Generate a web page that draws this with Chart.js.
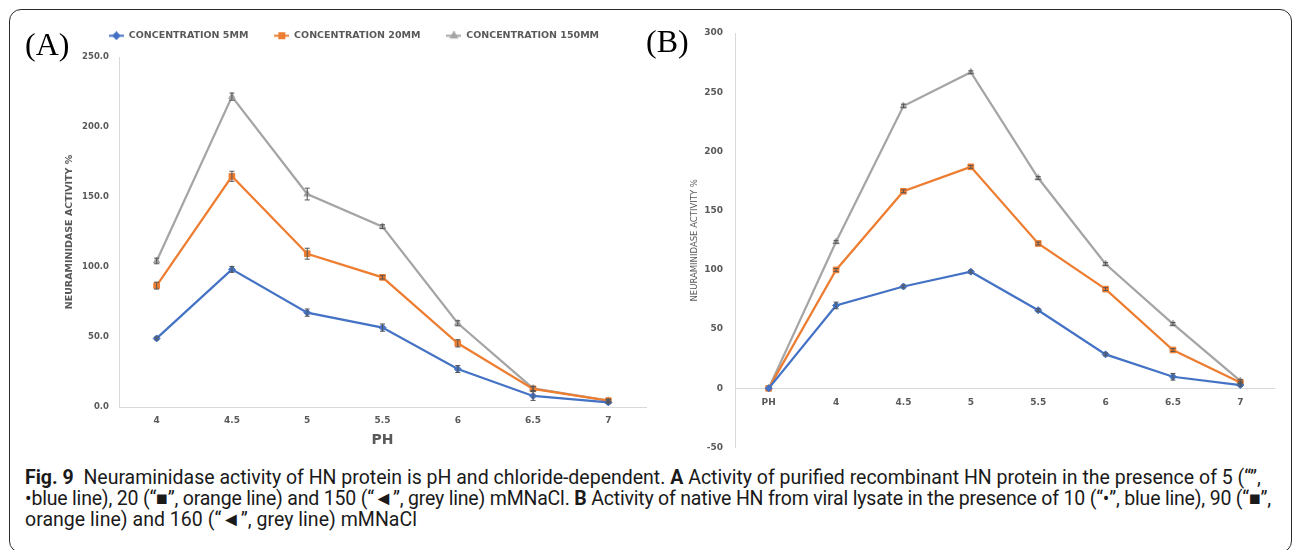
<!DOCTYPE html>
<html>
<head>
<meta charset="utf-8">
<script src="https://cdn.jsdelivr.net/npm/chart.js@4.4.0/dist/chart.umd.min.js"></script>
<style>
  html, body { margin: 0; padding: 0; background: #fff; width: 1293px; height: 550px; overflow: hidden; position: relative; }
  .frame { position: absolute; left: 9px; top: 9px; width: 1283px; height: 544px; box-sizing: border-box;
           border: 1.5px solid #2a2a2a; border-radius: 12px; }
  .tag { position: absolute; font-family: "Liberation Serif", serif; font-size: 32px; line-height: 1; color: #000; }
  #cvA { position: absolute; left: 0; top: 0; }
  #cvB { position: absolute; left: 640px; top: 0; }
  .cap { position: absolute; left: 25px; font-family: Roboto, sans-serif; font-weight: 400; color: #1a1a1a; white-space: nowrap; line-height: 1; }
  .cap b { font-weight: 700; }
</style>
</head>
<body>
<div class="frame"></div>
<canvas id="cvA" width="660" height="460"></canvas>
<canvas id="cvB" width="645" height="465"></canvas>
<div class="tag" style="left:25px;top:28px">(A)</div>
<div class="tag" style="left:646px;top:25px">(B)</div>
<div class="cap"><b>Fig. 9</b>&nbsp;&nbsp;Neuraminidase activity of HN protein is pH and chloride-dependent. <b>A</b> Activity of purified recombinant HN protein in the presence of 5 (“”,</div>
<div class="cap">•blue line), 20 (“■”, orange line) and 150 (“◄”, grey line) mMNaCl. <b>B</b> Activity of native HN from viral lysate in the presence of 10 (“•”, blue line), 90 (“■”,</div>
<div class="cap">orange line) and 160 (“◄”, grey line) mMNaCl</div>
<script>
// panel A: purified recombinant HN
const phA = ["4", "4.5", "5", "5.5", "6", "6.5", "7"];
const blueA = [49.0, 98.3, 67.4, 56.7, 27.1, 7.9, 3.3];
const orangeA = [86.7, 164.8, 109.5, 92.6, 45.5, 12.9, 4.5];
const greyA = [104.3, 221.7, 152.1, 128.8, 59.8, 13.3, 4.6];
const blueErrA = [1.0, 2.1, 2.6, 2.6, 2.5, 3.2, 1.0];
const orangeErrA = [2.5, 3.6, 3.9, 1.2, 2.6, 1.5, 1.0];
const greyErrA = [2.0, 2.6, 4.2, 1.4, 1.8, 1.5, 1.0];

// panel B: native HN from viral lysate
const phB = ["PH", "4", "4.5", "5", "5.5", "6", "6.5", "7"];
const blueB = [0, 70, 86, 98.5, 66, 28.7, 9.8, 2.8];
const orangeB = [0, 100, 166.4, 187, 122.3, 83.8, 32.4, 5];
const greyB = [0, 123.7, 238.4, 266.9, 177.6, 105, 54.4, 6.4];
const blueErrB = [0, 2.8, 1.2, 1.2, 1.2, 1.2, 2.8, 1.0];
const orangeErrB = [0, 1.2, 1.2, 1.2, 1.2, 1.2, 1.2, 1.0];
const greyErrB = [0, 1.2, 1.5, 1.2, 1.2, 1.2, 1.2, 1.0];

const seriesNames = ["CONCENTRATION 5MM", "CONCENTRATION 20MM", "CONCENTRATION 150MM"];

const BLUE = "#4472C4", ORANGE = "#ED7D31", GREY = "#A5A5A5";
const AXIS = "#d9d9d9", TEXT = "#595959";

Chart.defaults.font.family = '"DejaVu Sans", sans-serif';
Chart.defaults.color = TEXT;

function series(label, data, errors, color, style, radius) {
  return {
    label: label, data: data, errors: errors,
    borderColor: color, backgroundColor: color, borderWidth: 2.25, tension: 0,
    pointStyle: style, pointRadius: radius, pointBorderWidth: 1,
    pointBackgroundColor: color, pointBorderColor: color,
  };
}

function legendIcon(color, style, radius) {
  const c = document.createElement("canvas");
  c.width = 15; c.height = 9;
  const g = c.getContext("2d");
  g.strokeStyle = color; g.fillStyle = color; g.lineWidth = 2;
  g.beginPath(); g.moveTo(0, 4.5); g.lineTo(15, 4.5); g.stroke();
  Chart.helpers.drawPoint(g, { pointStyle: style, radius: radius, borderWidth: 1 }, 7.5, 4.5);
  return c;
}

// vertical error bars from each dataset's errors array
const errorBars = {
  id: "errorBars",
  afterDatasetsDraw(chart) {
    const ctx = chart.ctx, x = chart.scales.x, y = chart.scales.y;
    ctx.save();
    ctx.strokeStyle = "#555";
    ctx.lineWidth = 1;
    chart.data.datasets.forEach((ds, i) => {
      ds.data.forEach((v, j) => {
        const e = ds.errors[j];
        if (!e) return;
        const px = x.getPixelForValue(j);
        const y1 = y.getPixelForValue(v + e), y2 = y.getPixelForValue(v - e);
        ctx.beginPath();
        ctx.moveTo(px, y1); ctx.lineTo(px, y2);
        ctx.moveTo(px - 2.5, y1); ctx.lineTo(px + 2.5, y1);
        ctx.moveTo(px - 2.5, y2); ctx.lineTo(px + 2.5, y2);
        ctx.stroke();
      });
    });
    ctx.restore();
  },
};

const styles = [["rectRot", 3.5], ["rect", 4], ["triangle", 3.8]];
const colors = [BLUE, ORANGE, GREY];

new Chart(document.getElementById("cvA"), {
  type: "line",
  data: {
    labels: phA,
    datasets: [
      series(seriesNames[0], blueA, blueErrA, BLUE, "rectRot", 3.5),
      series(seriesNames[1], orangeA, orangeErrA, ORANGE, "rect", 4),
      series(seriesNames[2], greyA, greyErrA, GREY, "triangle", 3.8),
    ],
  },
  options: {
    responsive: false,
    animation: false,
    layout: { padding: { left: 62, right: 14, top: 5, bottom: 0 } },
    plugins: {
      tooltip: { enabled: false },
      legend: {
        display: true,
        position: "top",
        labels: {
          usePointStyle: true,
          pointStyleWidth: 15,
          boxHeight: 8,
          padding: 26,
          color: TEXT,
          font: { size: 9.5, weight: "bold" },
          generateLabels: (chart) => chart.data.datasets.map((ds, i) => ({
            text: ds.label,
            pointStyle: legendIcon(colors[i], styles[i][0], styles[i][1] - 0.5),
            fillStyle: colors[i], strokeStyle: colors[i], lineWidth: 0,
            fontColor: TEXT, hidden: false, datasetIndex: i,
          })),
        },
      },
      // empty title used as a spacer between legend and plot
      title: { display: true, text: "", weight: 500, padding: { top: 5.3, bottom: 0 }, font: { size: 1 } },
    },
    scales: {
      x: {
        offset: true,
        grid: { display: false, drawTicks: false },
        border: { display: true, color: AXIS },
        ticks: { padding: 8, color: TEXT, font: { size: 9, weight: "bold" } },
        title: { display: true, text: "PH", color: TEXT, font: { size: 14, weight: "bold" }, padding: { top: 0, bottom: 11.6 } },
        afterFit: (s) => { s.height = 53; },
      },
      y: {
        min: 0, max: 250,
        grid: { display: false, drawTicks: false },
        border: { display: true, color: AXIS },
        ticks: { stepSize: 50, padding: 10, color: TEXT, font: { size: 8.5, weight: "bold" }, callback: (v) => v.toFixed(1) },
        title: { display: true, text: "NEURAMINIDASE ACTIVITY %", color: TEXT, font: { size: 9.5, weight: "bold" }, padding: { top: 1.5, bottom: 0 } },
        afterFit: (s) => { s.width = 57; },
      },
    },
  },
  plugins: [errorBars],
});

new Chart(document.getElementById("cvB"), {
  type: "line",
  data: {
    labels: phB,
    datasets: [
      series("10", blueB, blueErrB, BLUE, "rectRot", 3.5),
      series("90", orangeB, orangeErrB, ORANGE, "rect", 4),
      series("160", greyB, greyErrB, GREY, "triangle", 3.8),
    ],
  },
  options: {
    responsive: false,
    animation: false,
    layout: { padding: { left: 45, right: 11, top: 33, bottom: 14 } },
    plugins: { legend: { display: false }, tooltip: { enabled: false } },
    scales: {
      x: {
        position: { y: 0 },
        offset: true,
        grid: { display: false, drawTicks: false },
        border: { display: true, color: AXIS },
        ticks: { padding: 9, color: TEXT, font: { size: 9, weight: "bold" } },
      },
      y: {
        min: -50, max: 300,
        grid: { display: false, drawTicks: false },
        border: { display: true, color: AXIS },
        ticks: { stepSize: 50, padding: 12, color: TEXT, font: { size: 9, weight: "bold" } },
        title: { display: true, text: "NEURAMINIDASE ACTIVITY %", color: TEXT, font: { size: 8.5 }, padding: { top: 4.5, bottom: 0 } },
        afterFit: (s) => { s.width = 50; },
      },
    },
  },
  plugins: [errorBars],
});

// caption: one font size from line 1, then letter spacing so each line ends where the reference does
const caps = document.querySelectorAll(".cap");
const capCenters = [479, 500, 521];
const capWidths = [1237, 1246, 392];
caps[0].style.fontSize = "16px";
const f = 16 * capWidths[0] / caps[0].getBoundingClientRect().width;
caps.forEach((el, i) => {
  el.style.fontSize = f + "px";
  const w = el.getBoundingClientRect().width;
  const n = el.textContent.length;
  if (i > 0) el.style.letterSpacing = ((capWidths[i] - w) / n) + "px";
  el.style.top = (capCenters[i] - 0.58 * f) + "px";
});
</script>
</body>
</html>
